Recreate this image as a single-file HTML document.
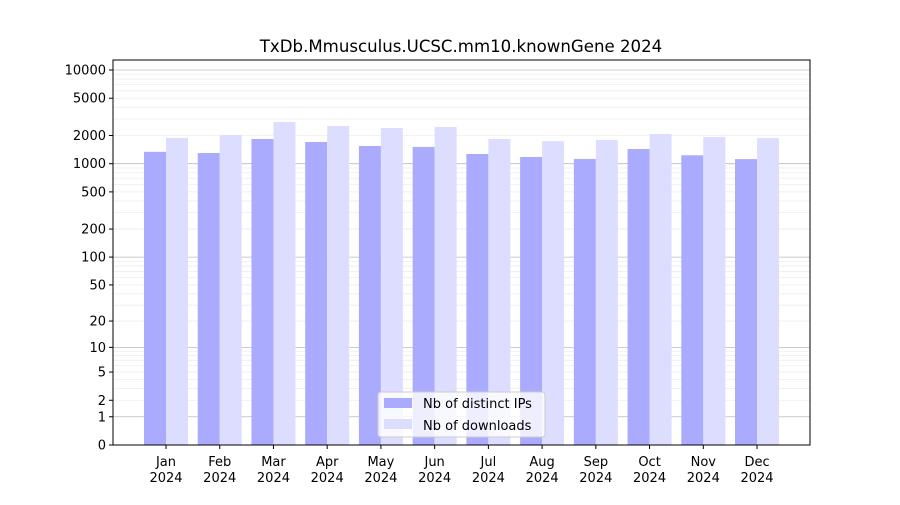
<!DOCTYPE html>
<html><head><meta charset="utf-8"><style>
body{margin:0;background:#fff;font-family:"Liberation Sans","DejaVu Sans",sans-serif}
svg text{font-family:"DejaVu Sans","Liberation Sans",sans-serif}
</style></head><body>
<svg id="chart" width="900" height="500" xmlns="http://www.w3.org/2000/svg">
<rect width="900" height="500" fill="#fff"/>
<text x="461" y="52" font-size="16.6" text-anchor="middle">TxDb.Mmusculus.UCSC.mm10.knownGene 2024</text>
<g id="grid"></g><g id="bars"></g><g id="axes"></g>
</svg>
<script>
const months=["Jan","Feb","Mar","Apr","May","Jun","Jul","Aug","Sep","Oct","Nov","Dec"];
const distinctIPs=[1340,1300,1835,1706,1546,1510,1270,1180,1124,1435,1230,1120];
const downloads=[1883,2025,2790,2530,2405,2465,1835,1740,1790,2075,1930,1880];
const yTicks=[0,1,2,5,10,20,50,100,200,500,1000,2000,5000,10000];
const NS="http://www.w3.org/2000/svg";
const L=113,R=810,T=60,B=445;
function y(v){return B-93.75*Math.log10(1+v);}
function xc(i){return 166+i*53.73;}
function mk(tag,attrs,parent,text){const e=document.createElementNS(NS,tag);for(const k in attrs)e.setAttribute(k,attrs[k]);if(text!==undefined)e.textContent=text;document.getElementById(parent).appendChild(e);return e;}
for(let n=0;n<4;n++)for(let k=2;k<=9;k++){const v=k*Math.pow(10,n);const g=mk('line',{x1:L,x2:R,y1:y(v),y2:y(v),stroke:'#eee','stroke-width':0.8},'grid');

}
[1,10,100,1000,10000].forEach(v=>{const g=mk('line',{x1:L,x2:R,y1:y(v),y2:y(v),stroke:'#bbb','stroke-width':0.8},'grid');

});
months.forEach((m,i)=>{
 const a=mk('rect',{x:xc(i)-22,y:y(distinctIPs[i]),width:22,height:B-y(distinctIPs[i]),fill:'#aaaaff'},'bars');
 
 
 const b=mk('rect',{x:xc(i),y:y(downloads[i]),width:22,height:B-y(downloads[i]),fill:'#ddddff'},'bars');
 
 
 mk('line',{x1:xc(i),x2:xc(i),y1:B,y2:B+4,stroke:'#000'},'axes');
 const t=mk('text',{x:xc(i),y:B+21,'font-size':13,'text-anchor':'middle'},'axes',m);
 
 
 const t2=mk('text',{x:xc(i),y:B+37,'font-size':13,'text-anchor':'middle'},'axes','2024');
 
 
});
yTicks.forEach(v=>{mk('line',{x1:L-4,x2:L,y1:y(v),y2:y(v),stroke:'#000'},'axes');
 const t=mk('text',{x:L-7,y:y(v)+4.5,'font-size':13,'text-anchor':'end'},'axes',String(v));
 
 });
const f=mk('rect',{x:L,y:T,width:R-L,height:B-T,fill:'none',stroke:'#000','stroke-width':1},'axes');


const lg=mk('g',{},'axes');lg.id='legend';


mk('rect',{x:378,y:392,width:167,height:45,fill:'#fff','fill-opacity':0.8,stroke:'#ccc',rx:3},'legend');
mk('rect',{x:384,y:398,width:28,height:10,fill:'#aaaaff'},'legend');
mk('text',{x:423,y:408,'font-size':13},'legend','Nb of distinct IPs');
mk('rect',{x:384,y:419,width:28,height:10,fill:'#ddddff'},'legend');
mk('text',{x:423,y:430,'font-size':13},'legend','Nb of downloads');
</script>
</body></html>
